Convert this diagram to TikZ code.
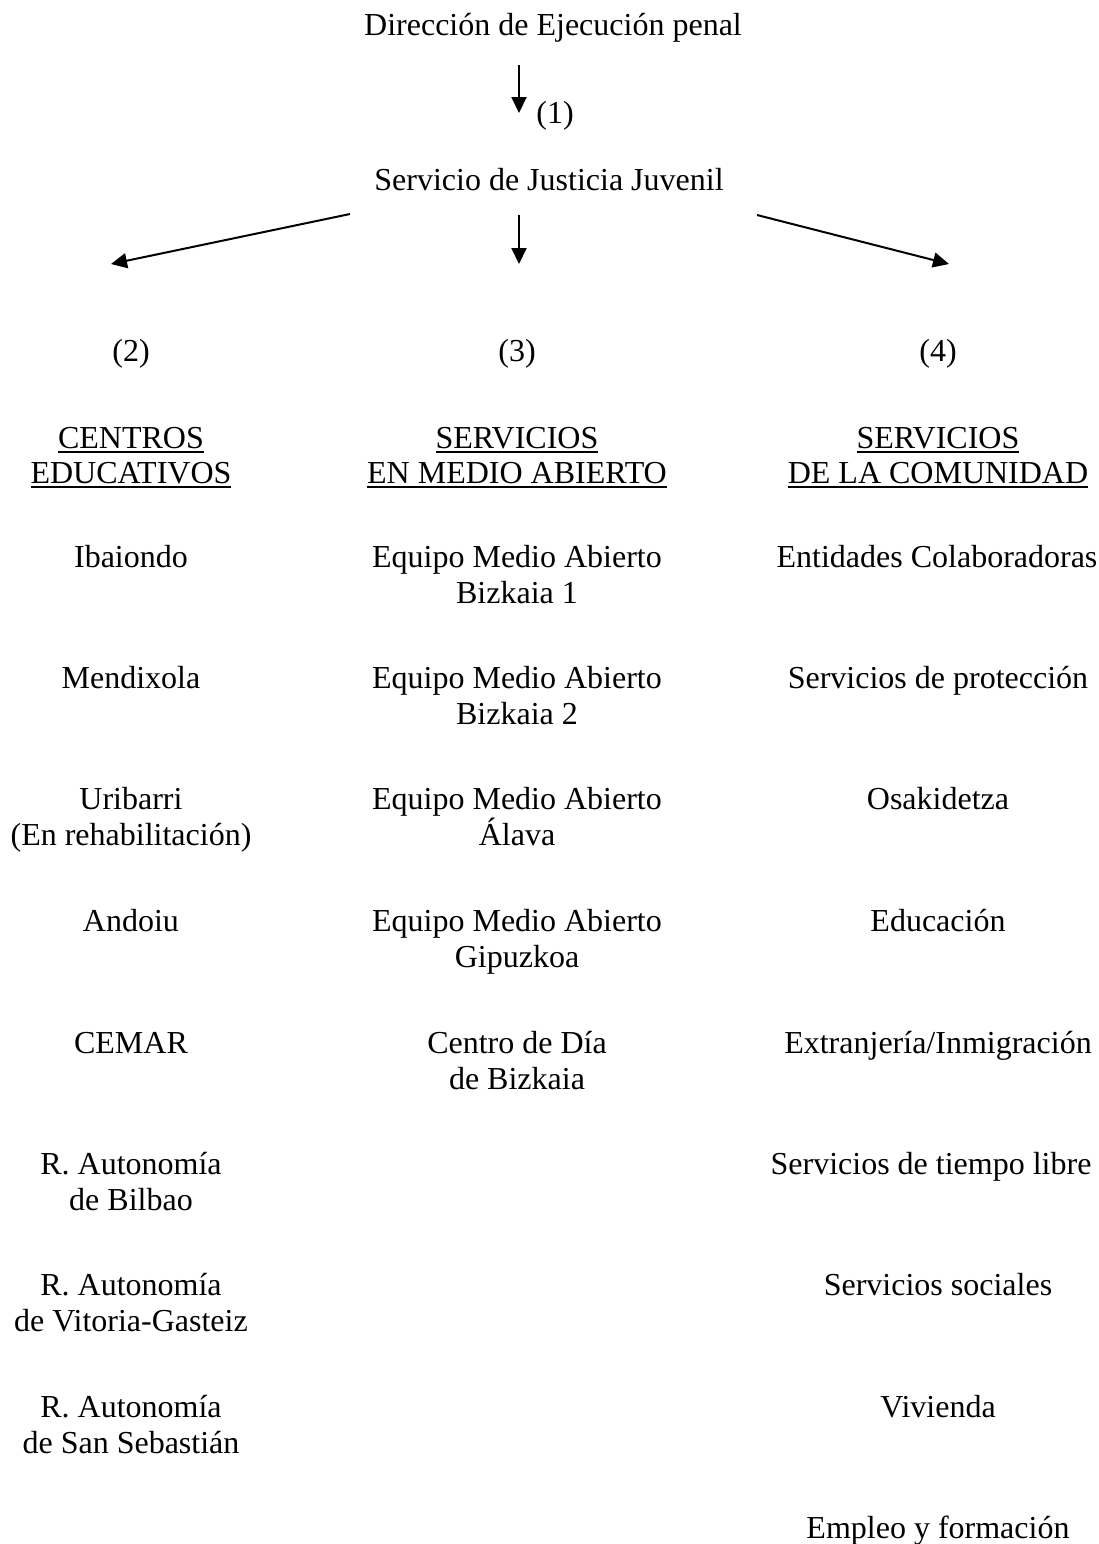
\documentclass[tikz,border=0pt]{standalone}
\usepackage{fontspec}
\setmainfont{Liberation Serif}
\usetikzlibrary{arrows.meta}
\newcommand{\ulx}[1]{\setbox0\hbox{#1}\rlap{\rule[-2.6pt]{\wd0}{1pt}}\box0}
\begin{document}
\begin{tikzpicture}[x=0.5pt,y=-0.5pt,
  lbl/.style={inner sep=0pt, anchor=base, align=center, font=\fontsize{16}{18}\selectfont},
  hdr/.style={lbl, font=\fontsize{16}{17.5}\selectfont},
  arr/.style={line width=1pt, -{Triangle[length=8pt,width=7.5pt]}}]
\useasboundingbox (0,0) rectangle (1099,1544);
% (two-line nodes are placed at the baseline of their last line)

% top
\node[lbl] (dir) at (553,35) {Dirección de Ejecución penal};
\node[lbl] (n1) at (555,123) {(1)};
\node[lbl] (sjj) at (549,190) {Servicio de Justicia Juvenil};

\coordinate (a0s) at (519,65);  \coordinate (a0e) at (519,113);
\coordinate (aLs) at (350,214); \coordinate (aLe) at (111,264);
\coordinate (aMs) at (519,215); \coordinate (aMe) at (519,264);
\coordinate (aRs) at (757,215); \coordinate (aRe) at (949,264);
\draw[arr] (a0s) -- (a0e);
\draw[arr] (aLs) -- (aLe);
\draw[arr] (aMs) -- (aMe);
\draw[arr] (aRs) -- (aRe);

% numbers
\node[lbl] (n2) at (131,361) {(2)};
\node[lbl] (n3) at (517,361) {(3)};
\node[lbl] (n4) at (938,361) {(4)};

% headers
\node[hdr] (h2) at (131,483) {\ulx{CENTROS}\\\ulx{EDUCATIVOS}};
\node[hdr] (h3) at (517,483) {\ulx{SERVICIOS}\\\ulx{EN MEDIO ABIERTO}};
\node[hdr] (h4) at (938,483) {\ulx{SERVICIOS}\\\ulx{DE LA COMUNIDAD}};

% left column
\node[lbl] (c1) at (131,567) {Ibaiondo};
\node[lbl] (c2) at (131,688) {Mendixola};
\node[lbl] (c3) at (131,845) {Uribarri\\(En rehabilitación)};
\node[lbl] (c4) at (131,931) {Andoiu};
\node[lbl] (c5) at (131,1053) {CEMAR};
\node[lbl] (c6) at (131,1210) {R. Autonomía\\de Bilbao};
\node[lbl] (c7) at (131,1331) {R. Autonomía\\de Vitoria-Gasteiz};
\node[lbl] (c8) at (131,1453) {R. Autonomía\\de San Sebastián};

% middle column
\node[lbl] (m1) at (517,603) {Equipo Medio Abierto\\Bizkaia 1};
\node[lbl] (m2) at (517,724) {Equipo Medio Abierto\\Bizkaia 2};
\node[lbl] (m3) at (517,845) {Equipo Medio Abierto\\Álava};
\node[lbl] (m4) at (517,967) {Equipo Medio Abierto\\Gipuzkoa};
\node[lbl] (m5) at (517,1089) {Centro de Día\\de Bizkaia};

% right column
\node[lbl] (r1) at (937,567) {Entidades Colaboradoras};
\node[lbl] (r2) at (938,688) {Servicios de protección};
\node[lbl] (r3) at (938,809) {Osakidetza};
\node[lbl] (r4) at (938,931) {Educación};
\node[lbl] (r5) at (938,1053) {Extranjería/Inmigración};
\node[lbl] (r6) at (931,1174) {Servicios de tiempo libre};
\node[lbl] (r7) at (938,1295) {Servicios sociales};
\node[lbl] (r8) at (938,1417) {Vivienda};
\node[lbl] (r9) at (938,1538) {Empleo y formación};
\end{tikzpicture}
\end{document}
